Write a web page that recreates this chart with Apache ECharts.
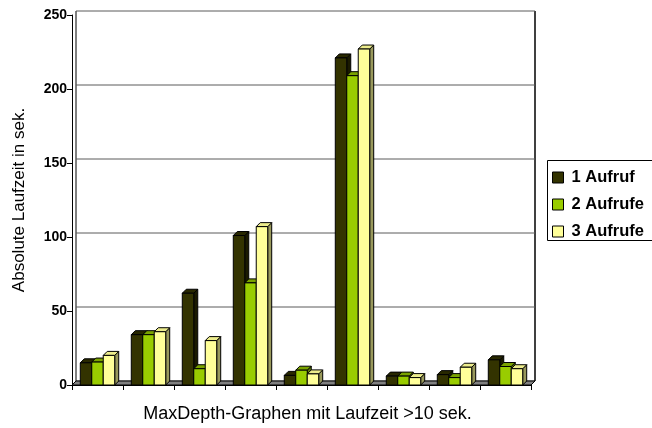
<!DOCTYPE html>
<html>
<head>
<meta charset="utf-8">
<script src="https://cdn.jsdelivr.net/npm/echarts@6/dist/echarts.min.js"></script>
<style>
  html, body { margin: 0; padding: 0; background: #fff; }
  #chart { width: 652px; height: 428px; }
</style>
</head>
<body>
<div id="chart"></div>
<script>
// Run times (seconds) of the MaxDepth graphs that took longer than 10 s
const categories = ['1', '2', '3', '4', '5', '6', '7', '8', '9'];
const seriesNames = ['1 Aufruf', '2 Aufrufe', '3 Aufrufe'];
const aufruf1 = [15, 34, 62, 101, 6.5, 221, 6, 7, 17];
const aufruf2 = [15.5, 34, 11, 69, 10, 209, 6, 5, 12.5];
const aufruf3 = [20, 36, 30, 107, 7.5, 227, 5, 12, 11];
const yTicks = [0, 50, 100, 150, 200, 250];

const FONT = '"Liberation Sans", Arial, sans-serif';
const DEPTH = 4;            // oblique extrusion of the pseudo-3D boxes, px
const BAR_SHARE = 0.225;    // width of one column relative to the category band

const faces = [
  { front: '#333300', top: '#282800', side: '#1a1a00' },
  { front: '#99cc00', top: '#7aa300', side: '#5c7a00' },
  { front: '#ffff99', top: '#ecec8c', side: '#99995c' }
];

// One extruded column: right side, top, then front face
function columnRenderer(k) {
  return function (params, api) {
    const cat = api.value(0);
    const val = api.value(1);
    const base = api.coord([cat, 0]);
    const head = api.coord([cat, val]);
    const w = api.size([1, 0])[0] * BAR_SHARE;
    const x0 = base[0] - 1.5 * w + k * w;
    const x1 = x0 + w;
    const yb = base[1];
    const yt = head[1];
    const d = DEPTH;
    const f = faces[k];
    const edge = { stroke: '#000', lineWidth: 1 };
    return {
      type: 'group',
      children: [
        { type: 'polygon', shape: { points: [[x1, yb], [x1 + d, yb - d], [x1 + d, yt - d], [x1, yt]] },
          style: Object.assign({ fill: f.side }, edge) },
        { type: 'polygon', shape: { points: [[x0, yt], [x1, yt], [x1 + d, yt - d], [x0 + d, yt - d]] },
          style: Object.assign({ fill: f.top }, edge) },
        { type: 'rect', shape: { x: x0, y: yt, width: w, height: yb - yt },
          style: Object.assign({ fill: f.front }, edge) }
      ]
    };
  };
}

// Back wall gridlines, wall edges and the grey floor
function wallRenderer(params, api) {
  const cs = params.coordSys;
  const d = DEPTH;
  const p = api.coord([0, api.value(1)]);
  const xl = cs.x + d, xr = cs.x + cs.width + d;
  const children = [
    { type: 'line', shape: { x1: xl, y1: p[1] - d, x2: xr, y2: p[1] - d },
      style: { stroke: '#5a5a5a', lineWidth: 1 } }
  ];
  if (params.dataIndex === 0) {
    const yb = cs.y + cs.height;
    const yt = cs.y;
    children.push(
      { type: 'polygon', shape: { points: [[cs.x, yb], [cs.x + cs.width, yb], [xr, yb - d], [xl, yb - d]] },
        style: { fill: '#808080', stroke: '#000', lineWidth: 1 } },
      { type: 'line', shape: { x1: xl, y1: yt - d, x2: xl, y2: yb - d },
        style: { stroke: '#000', lineWidth: 1 } },
      { type: 'line', shape: { x1: xr, y1: yt - d, x2: xr, y2: yb - d },
        style: { stroke: '#000', lineWidth: 1.5 } }
    );
  }
  return { type: 'group', children: children };
}

const valueSets = [aufruf1, aufruf2, aufruf3];

const chart = echarts.init(document.getElementById('chart'), null, { renderer: 'canvas' });

chart.setOption({
  animation: false,
  backgroundColor: '#fff',
  textStyle: { fontFamily: FONT },
  grid: { left: 72, right: 121, top: 15, bottom: 43 },
  // legend frame runs on past the right edge of the canvas
  graphic: [{
    type: 'rect',
    left: 547,
    top: 160,
    z: 0,
    shape: { width: 140, height: 80 },
    style: { fill: '#fff', stroke: '#000', lineWidth: 1 }
  }],
  legend: {
    data: seriesNames,
    orient: 'vertical',
    left: 547,
    top: 160,
    padding: [9, 5, 4, 5],
    itemWidth: 11,
    itemHeight: 11,
    itemGap: 10,
    icon: 'rect',
    borderWidth: 0,
    itemStyle: { borderColor: '#000', borderWidth: 1 },
    textStyle: { fontFamily: FONT, fontSize: 16.5, fontWeight: 'bold', color: '#000', lineHeight: 16, padding: [0, 0, 0, 3] }
  },
  xAxis: {
    type: 'category',
    data: categories,
    boundaryGap: true,
    name: 'MaxDepth-Graphen mit Laufzeit >10 sek.',
    nameLocation: 'middle',
    nameGap: 20,
    nameTextStyle: { fontFamily: FONT, fontSize: 18, color: '#000', padding: [0, 0, 0, 12] },
    axisLine: { show: true, lineStyle: { color: '#000', width: 1 } },
    axisTick: { show: true, length: 5, lineStyle: { color: '#000' } },
    axisLabel: { show: false },
    splitLine: { show: false }
  },
  yAxis: {
    type: 'value',
    min: 0,
    max: 250,
    interval: 50,
    name: 'Absolute Laufzeit in sek.',
    nameLocation: 'middle',
    nameGap: 44,
    nameRotate: 90,
    nameTextStyle: { fontFamily: FONT, fontSize: 17, color: '#000' },
    axisLine: { show: true, lineStyle: { color: '#000', width: 1 } },
    axisTick: { show: true, length: 5, lineStyle: { color: '#000' } },
    axisLabel: {
      margin: 5, fontFamily: FONT, fontSize: 14, fontWeight: 'bold', color: '#000',
      customValues: yTicks
    },
    splitLine: { show: false }
  },
  series: [
    {
      name: 'wall',
      type: 'custom',
      renderItem: wallRenderer,
      clip: false,
      silent: true,
      z: 1,
      data: yTicks.map(function (v) { return [0, v]; })
    }
  ].concat(valueSets.map(function (vals, k) {
    return {
      name: seriesNames[k],
      type: 'custom',
      renderItem: columnRenderer(k),
      clip: false,
      z: 2 + k,
      itemStyle: { color: faces[k].front, borderColor: '#000', borderWidth: 1 },
      encode: { x: 0, y: 1 },
      data: vals.map(function (v, i) { return [i, v]; })
    };
  }))
});
</script>
</body>
</html>
